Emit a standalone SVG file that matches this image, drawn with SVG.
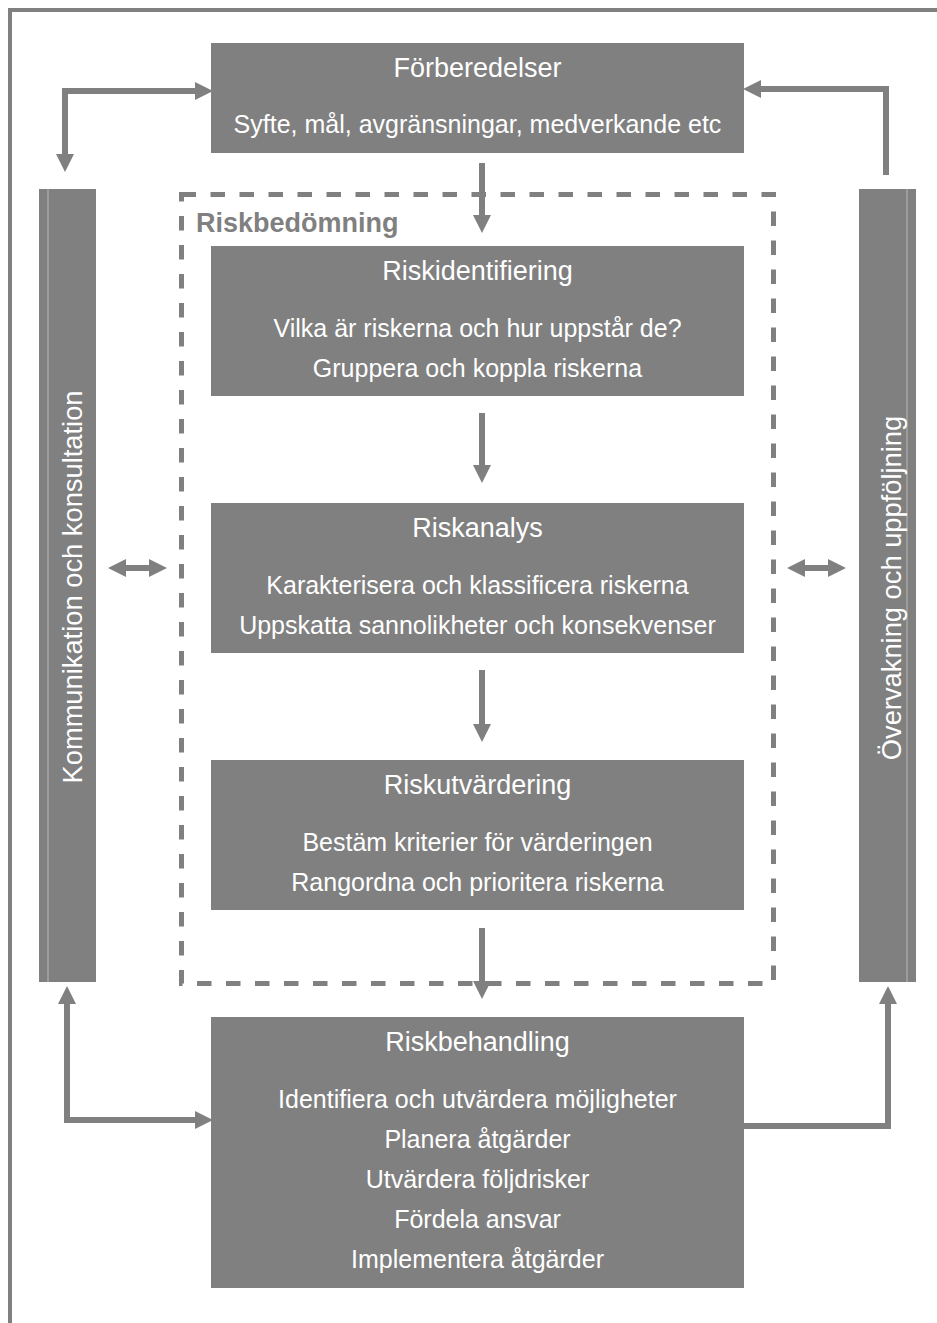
<svg xmlns="http://www.w3.org/2000/svg" width="937" height="1323" viewBox="0 0 937 1323">
<style>
.box{fill:#808080;}
.bar{fill:#808080;}
.hl{stroke:#b8b8b8;stroke-width:1;fill:none;}
.t{font-family:"Liberation Sans",Arial,sans-serif;fill:#ffffff;text-anchor:middle;}
.title{font-size:27px;}
.body{font-size:25px;}
.side{font-family:"Liberation Sans",Arial,sans-serif;fill:#ffffff;font-size:27.3px;text-anchor:middle;}
.lbl{font-family:"Liberation Sans",Arial,sans-serif;fill:#808080;font-size:27px;font-weight:bold;}
.con{fill:none;stroke:#808080;stroke-width:6;}
.frame{fill:none;stroke:#808080;stroke-width:4;}
.dash{fill:none;stroke:#808080;stroke-width:5;stroke-dasharray:14.5 14.5;}
</style>
<defs>
<marker id="ah" markerUnits="userSpaceOnUse" markerWidth="18" markerHeight="18" viewBox="0 0 18 18" refX="0" refY="9" orient="auto-start-reverse">
<path d="M0,0 L18,9 L0,18 z" fill="#808080"/>
</marker>
</defs>
<rect width="937" height="1323" fill="#ffffff"/>
<path class="frame" d="M10,1323 V10 H937"/>

<g id="riskbedomning">
<rect class="dash" x="181.5" y="194.5" width="592" height="789"/>
<text class="lbl" x="196" y="232">Riskbedömning</text>
</g>

<g id="forberedelser">
<rect class="box" x="211" y="43" width="533" height="110"/>
<text class="t title" x="477.5" y="77">Förberedelser</text>
<text class="t body" x="477.5" y="133">Syfte, mål, avgränsningar, medverkande etc</text>
</g>

<g id="riskidentifiering">
<rect class="box" x="211" y="246" width="533" height="150"/>
<text class="t title" x="477.5" y="280">Riskidentifiering</text>
<text class="t body" x="477.5" y="337">Vilka är riskerna och hur uppstår de?</text>
<text class="t body" x="477.5" y="377">Gruppera och koppla riskerna</text>
</g>

<g id="riskanalys">
<rect class="box" x="211" y="503" width="533" height="150"/>
<text class="t title" x="477.5" y="537">Riskanalys</text>
<text class="t body" x="477.5" y="594">Karakterisera och klassificera riskerna</text>
<text class="t body" x="477.5" y="634">Uppskatta sannolikheter och konsekvenser</text>
</g>

<g id="riskutvardering">
<rect class="box" x="211" y="760" width="533" height="150"/>
<text class="t title" x="477.5" y="794">Riskutvärdering</text>
<text class="t body" x="477.5" y="851">Bestäm kriterier för värderingen</text>
<text class="t body" x="477.5" y="891">Rangordna och prioritera riskerna</text>
</g>

<g id="riskbehandling">
<rect class="box" x="211" y="1017" width="533" height="271"/>
<text class="t title" x="477.5" y="1051">Riskbehandling</text>
<text class="t body" x="477.5" y="1108">Identifiera och utvärdera möjligheter</text>
<text class="t body" x="477.5" y="1148">Planera åtgärder</text>
<text class="t body" x="477.5" y="1188">Utvärdera följdrisker</text>
<text class="t body" x="477.5" y="1228">Fördela ansvar</text>
<text class="t body" x="477.5" y="1268">Implementera åtgärder</text>
</g>

<g id="kommunikation">
<rect class="bar" x="39" y="189" width="57" height="793"/>
<line class="hl" x1="48" y1="189" x2="48" y2="982"/>
<text class="side" transform="translate(82,587) rotate(-90)">Kommunikation och konsultation</text>
</g>

<g id="overvakning">
<rect class="bar" x="859" y="189" width="57" height="793"/>
<line class="hl" x1="907" y1="189" x2="907" y2="982"/>
<text class="side" transform="translate(901,588) rotate(-90)">Övervakning och uppföljning</text>
</g>

<g id="connectors">
<path class="con" d="M195,91 H65 V154" marker-start="url(#ah)" marker-end="url(#ah)"/>
<path class="con" d="M886,175 V89 H761" marker-end="url(#ah)"/>
<path class="con" d="M67,1004 V1120 H195" marker-start="url(#ah)" marker-end="url(#ah)"/>
<path class="con" d="M744,1126 H888 V1004" marker-end="url(#ah)"/>
<path class="con" d="M482,163 V215" marker-end="url(#ah)"/>
<path class="con" d="M482,413 V465" marker-end="url(#ah)"/>
<path class="con" d="M482,670 V724" marker-end="url(#ah)"/>
<path class="con" d="M482,928 V981" marker-end="url(#ah)"/>
<path class="con" d="M126,568 H149" marker-start="url(#ah)" marker-end="url(#ah)"/>
<path class="con" d="M805,568 H828" marker-start="url(#ah)" marker-end="url(#ah)"/>
</g>
</svg>
